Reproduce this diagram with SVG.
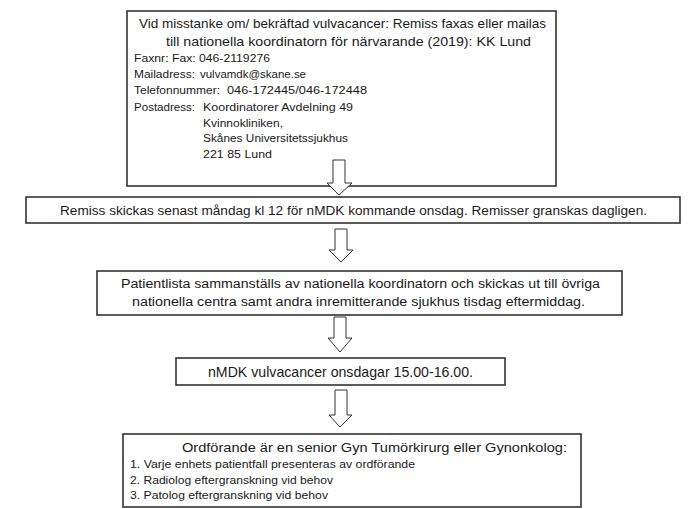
<svg xmlns="http://www.w3.org/2000/svg" width="695" height="509" viewBox="0 0 695 509">
<style>
.box{fill:#fff;stroke:#333;stroke-width:1.6}
.arr{fill:#fff;stroke:#333;stroke-width:1}
text{font-family:"Liberation Sans",Arial,sans-serif;fill:#1a1a1a}
.big{font-size:13.5px}
.mid{font-size:12.5px}
.sm{font-size:10px}
.lg{font-size:15px}
</style>
<rect width="695" height="509" fill="#fff"/>
<g id="node1">
<rect class="box" x="127" y="11" width="429" height="175"/>
<text class="big" x="139" y="28" textLength="407" lengthAdjust="spacingAndGlyphs">Vid misstanke om/ bekräftad vulvacancer: Remiss faxas eller mailas</text>
<text class="big" x="166" y="46" textLength="365" lengthAdjust="spacingAndGlyphs">till nationella koordinatorn för närvarande (2019): KK Lund</text>
<text class="sm" x="134" y="62" textLength="136" lengthAdjust="spacingAndGlyphs">Faxnr: Fax: 046-2119276</text>
<text class="sm" x="134" y="78" textLength="61" lengthAdjust="spacingAndGlyphs">Mailadress:</text>
<text class="sm" x="200" y="78" textLength="106" lengthAdjust="spacingAndGlyphs">vulvamdk@skane.se</text>
<text class="sm" x="134" y="94" textLength="86" lengthAdjust="spacingAndGlyphs">Telefonnummer:</text>
<text class="sm" x="227" y="94" textLength="140" lengthAdjust="spacingAndGlyphs">046-172445/046-172448</text>
<text class="sm" x="134" y="111" textLength="61" lengthAdjust="spacingAndGlyphs">Postadress:</text>
<text class="sm" x="203" y="111" textLength="150" lengthAdjust="spacingAndGlyphs">Koordinatorer Avdelning  49</text>
<text class="sm" x="203" y="127" textLength="80" lengthAdjust="spacingAndGlyphs">Kvinnokliniken,</text>
<text class="sm" x="203" y="142" textLength="145" lengthAdjust="spacingAndGlyphs">Skånes Universitetssjukhus</text>
<text class="sm" x="203" y="158" textLength="69" lengthAdjust="spacingAndGlyphs">221 85 Lund</text>
</g>
<g id="node2">
<rect class="box" x="26" y="197" width="654" height="26"/>
<text class="mid" x="60" y="215" textLength="587" lengthAdjust="spacingAndGlyphs">Remiss skickas senast måndag kl 12 för nMDK kommande onsdag. Remisser granskas dagligen.</text>
</g>
<g id="node3">
<rect class="box" x="97" y="271" width="525" height="44"/>
<text class="mid" x="121" y="288" textLength="479" lengthAdjust="spacingAndGlyphs">Patientlista sammanställs av nationella koordinatorn och skickas ut till övriga</text>
<text class="mid" x="132" y="306" textLength="453" lengthAdjust="spacingAndGlyphs">nationella centra samt andra inremitterande sjukhus tisdag eftermiddag.</text>
</g>
<g id="node4">
<rect class="box" x="176" y="358" width="329" height="27"/>
<text class="lg" x="208" y="377" textLength="265" lengthAdjust="spacingAndGlyphs">nMDK vulvacancer onsdagar 15.00-16.00.</text>
</g>
<g id="node5">
<rect class="box" x="123" y="434" width="458" height="73"/>
<text class="mid" x="182" y="452" textLength="385" lengthAdjust="spacingAndGlyphs">Ordförande är en senior Gyn Tumörkirurg eller Gynonkolog:</text>
<text class="sm" x="130" y="468" textLength="285" lengthAdjust="spacingAndGlyphs">1. Varje  enhets  patientfall  presenteras  av ordförande</text>
<text class="sm" x="130" y="484" textLength="203" lengthAdjust="spacingAndGlyphs">2. Radiolog eftergranskning  vid behov</text>
<text class="sm" x="130" y="499" textLength="198" lengthAdjust="spacingAndGlyphs">3. Patolog eftergranskning  vid behov</text>
</g>
<g id="connectors">
<path class="arr" d="M333,160 H345 V183 H352 L339,195 L327,183 H333 Z"/>
<path class="arr" d="M335,229 H347 V250 H353 L341,262 L329,250 H335 Z"/>
<path class="arr" d="M334,317 H346 V338 H352 L340,352 L328,338 H334 Z"/>
<path class="arr" d="M335,390 H347 V415 H352 L340,427 L329,415 H335 Z"/>
</g>
</svg>
